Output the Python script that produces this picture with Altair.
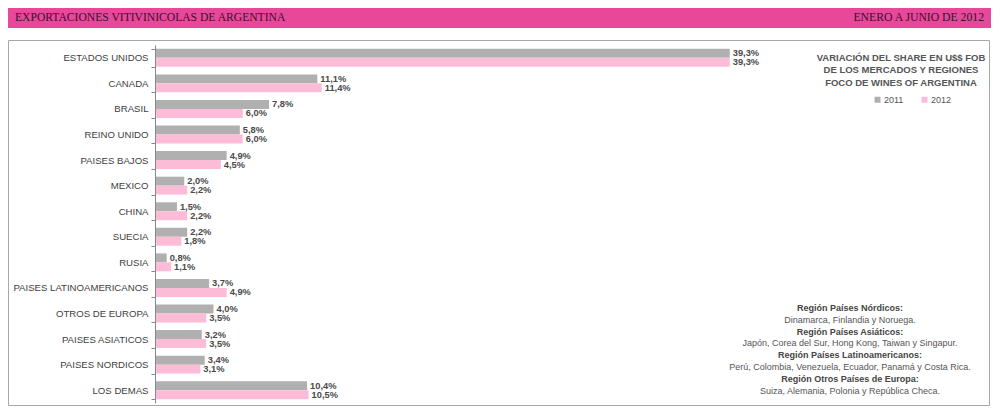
import pandas as pd
import altair as alt

categories = [
    "ESTADOS UNIDOS", "CANADA", "BRASIL", "REINO UNIDO", "PAISES BAJOS",
    "MEXICO", "CHINA", "SUECIA", "RUSIA", "PAISES LATINOAMERICANOS",
    "OTROS DE EUROPA", "PAISES ASIATICOS", "PAISES NORDICOS", "LOS DEMAS",
]
share_2011 = [39.3, 11.1, 7.8, 5.8, 4.9, 2.0, 1.5, 2.2, 0.8, 3.7, 4.0, 3.2, 3.4, 10.4]
share_2012 = [39.3, 11.4, 6.0, 6.0, 4.5, 2.2, 2.2, 1.8, 1.1, 4.9, 3.5, 3.5, 3.1, 10.5]
years = ["2011", "2012"]

header_left = "EXPORTACIONES VITIVINICOLAS DE ARGENTINA"
header_right = "ENERO A JUNIO DE 2012"
title_lines = [
    "VARIACIÓN DEL SHARE EN U$$ FOB",
    "DE LOS MERCADOS Y REGIONES",
    "FOCO DE WINES OF ARGENTINA",
]
note_heads = [
    "Región Países Nórdicos:",
    "Región Países Asiáticos:",
    "Región Países Latinoamericanos:",
    "Región Otros Países de Europa:",
]
note_lines = [
    "Dinamarca, Finlandia y Noruega.",
    "Japón, Corea del Sur, Hong Kong, Taiwan y Singapur.",
    "Perú, Colombia, Venezuela, Ecuador, Panamá y Costa Rica.",
    "Suiza, Alemania, Polonia y República Checa.",
]

FONT = "Liberation Sans"
W, H = 819, 358

rows = []
for cat, a, b in zip(categories, share_2011, share_2012):
    for year, v in zip(years, (a, b)):
        rows.append({
            "pais": cat,
            "anio": year,
            "share": v,
            "label": f"{v:.1f}".replace(".", ",") + "%",
        })
df = pd.DataFrame(rows)
one = pd.DataFrame({"k": [0]})

x_enc = alt.X("share:Q", axis=None, scale=alt.Scale(domain=[0, 56], nice=False))
y_enc = alt.Y(
    "pais:N",
    sort=categories,
    title=None,
    scale=alt.Scale(paddingInner=0.3, paddingOuter=0.15),
    axis=alt.Axis(
        zindex=1,
        domainColor="#888888",
        tickColor="#888888",
        tickSize=4,
        tickBand="extent",
        labelFont=FONT,
        labelFontSize=9.6,
        labelColor="#404040",
        labelPadding=3,
    ),
)
yoff = alt.YOffset("anio:N", sort=years)

box = alt.Chart(one).mark_rect(fill="white", stroke="#a8a8a8", strokeWidth=1).encode(
    x=alt.value(-146.5), x2=alt.value(834.5), y=alt.value(-4.5), y2=alt.value(360.5)
)
header = alt.Chart(one).mark_rect(color="#e8479a").encode(
    x=alt.value(-147), x2=alt.value(836), y=alt.value(-37), y2=alt.value(-17)
)
head_l = alt.Chart(one).mark_text(
    text=header_left, font="Liberation Serif", fontSize=11.6, color="#3d0f2e",
    align="left", baseline="alphabetic",
).encode(x=alt.value(-140), y=alt.value(-24))
head_r = alt.Chart(one).mark_text(
    text=header_right, font="Liberation Serif", fontSize=11.7, color="#3d0f2e",
    align="right", baseline="alphabetic",
).encode(x=alt.value(829), y=alt.value(-24))

bars = alt.Chart(df).mark_bar().encode(
    x=x_enc,
    y=y_enc,
    yOffset=yoff,
    color=alt.Color(
        "anio:N",
        scale=alt.Scale(domain=years, range=["#b0b0b0", "#fcbcd8"]),
        legend=alt.Legend(
            orient="none", legendX=718, legendY=50, direction="horizontal",
            title=None, symbolType="square", symbolSize=36, symbolStrokeWidth=0,
            labelFont=FONT, labelFontSize=9, labelColor="#555555",
            labelOffset=2, columnPadding=16, padding=0,
        ),
    ),
)
values = alt.Chart(df).mark_text(
    align="left", baseline="middle", dx=3, font=FONT, fontSize=9.3,
    fontWeight="bold", color="#4a4a4a",
).encode(x=x_enc, y=y_enc, yOffset=yoff, text="label:N")

title = alt.Chart(one).mark_text(
    text=title_lines, lineHeight=12.5, font=FONT, fontSize=9.5, fontWeight="bold",
    color="#555555", align="center", baseline="alphabetic",
).encode(x=alt.value(746), y=alt.value(15.5))

# notes: bold region name, then its countries, one line each
notes = []
for i, (head, line) in enumerate(zip(note_heads, note_lines)):
    y0 = 266 + 2 * i * 11.8
    notes.append(alt.Chart(one).mark_text(
        text=head, font=FONT, fontSize=9, fontWeight="bold",
        color="#444444", align="center", baseline="alphabetic",
    ).encode(x=alt.value(695), y=alt.value(y0)))
    notes.append(alt.Chart(one).mark_text(
        text=line, font=FONT, fontSize=9,
        color="#555555", align="center", baseline="alphabetic",
    ).encode(x=alt.value(695), y=alt.value(y0 + 11.8)))

chart = (
    alt.layer(box, header, head_l, head_r, bars, values, title, *notes)
    .properties(
        width=W,
        height=H,
        padding={"left": 147, "top": 37, "right": 18, "bottom": 4},
        autosize=alt.AutoSizeParams(type="none"),
        background="white",
    )
    .configure_view(strokeWidth=0)
)

chart.save("out.html", embed_options={"renderer": "svg", "actions": False})
